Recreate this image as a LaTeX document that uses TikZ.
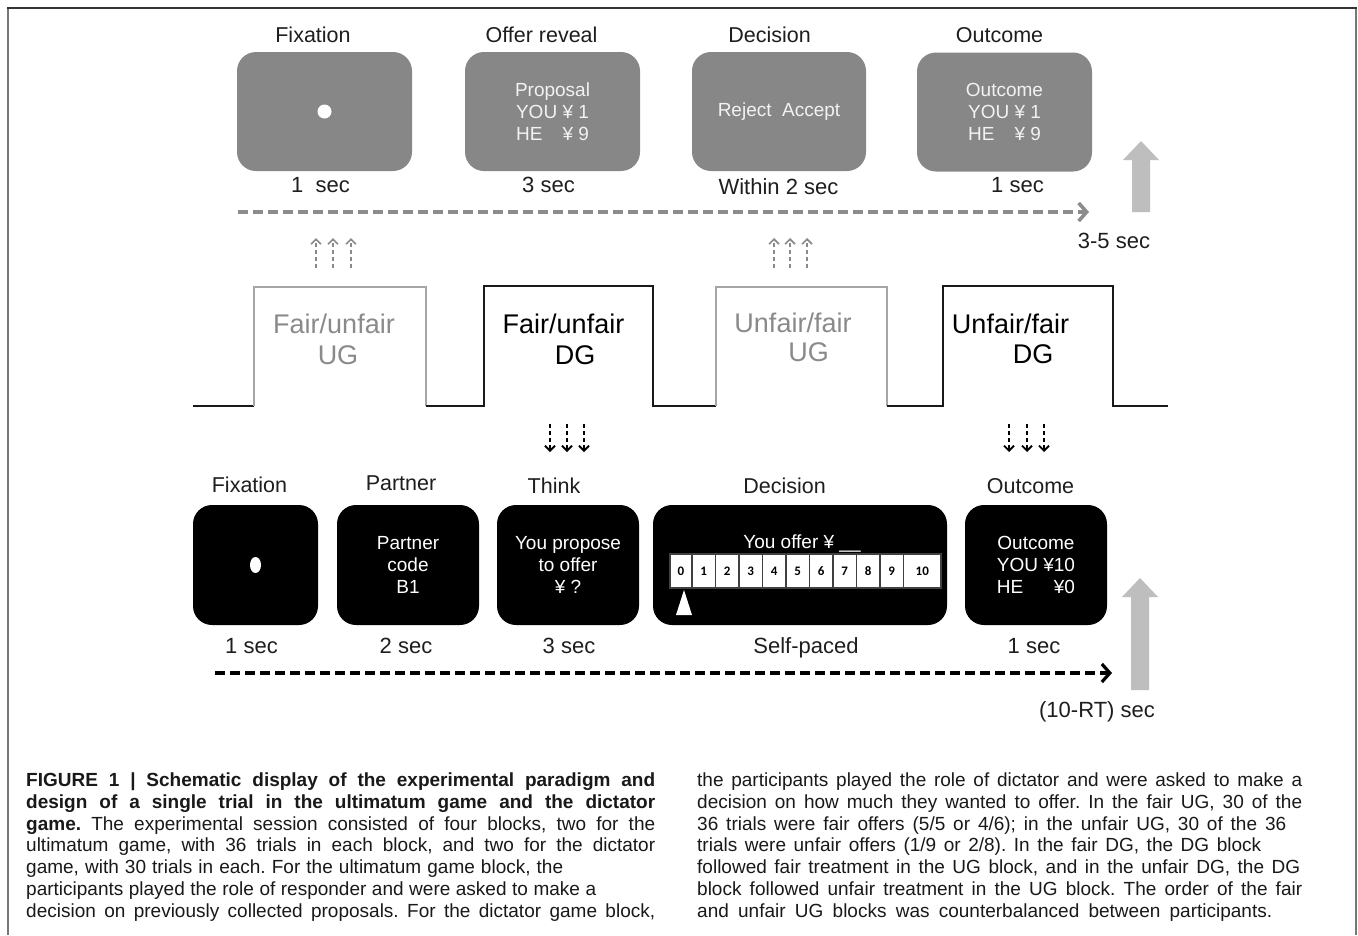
\documentclass[tikz,border=0pt]{standalone}
\usepackage{fontspec}
\setmainfont{Liberation Sans}
\newfontfamily\capfont{Liberation Sans}
\newfontfamily\numfont{Carlito}
\usetikzlibrary{arrows.meta,shapes.geometric}
\definecolor{boxgray}{HTML}{878787}
\definecolor{boxtext}{HTML}{F2F2F2}
\definecolor{titlecol}{HTML}{1E1E1E}
\definecolor{dashgray}{HTML}{8C8C8C}
\definecolor{biggray}{HTML}{BEBEBE}
\definecolor{wavegray}{HTML}{A5A5A5}
\definecolor{uggray}{HTML}{8A8A8A}
\definecolor{framedark}{HTML}{333333}
\definecolor{frameside}{HTML}{777777}
\begin{document}
\frenchspacing
\begin{tikzpicture}[x=1pt,y=-1pt,
  title/.style={font=\fontsize{21.5}{24}\selectfont, text=titlecol, anchor=base, inner sep=0pt},
  dur/.style={font=\fontsize{22}{24}\selectfont, text=titlecol, anchor=base, inner sep=0pt},
  screen/.style={rounded corners=19pt, inner sep=0pt, align=center, font=\fontsize{19}{22}\selectfont},
  topbox/.style={screen, fill=boxgray, text=boxtext, minimum width=175pt, minimum height=119pt},
  botbox/.style={screen, fill=black, text=white, minimum height=120pt},
  blk/.style={font=\fontsize{27}{30}\selectfont, anchor=base, inner sep=0pt},
  wblack/.style={draw=black!90, line width=2.4pt},
  wgray/.style={draw=wavegray, line width=1.6pt},
  uparr/.style={draw=uggray, line width=1.6pt, dash pattern=on 4pt off 3pt, -{Straight Barb[length=5pt,width=10pt]}},
  dnarr/.style={draw=black, line width=1.8pt, dash pattern=on 4pt off 3pt, -{Straight Barb[length=5pt,width=10pt]}},
  capline/.style={anchor=base west, inner sep=0pt, font=\capfont\fontsize{19}{21}\selectfont, text=black!90},
  cell/.style={fill=white, draw=black!75, line width=1.4pt},
  digit/.style={font=\numfont\bfseries\fontsize{13}{14}\selectfont, inner sep=0pt}
]
\useasboundingbox (0,0) rectangle (1358,935);
\fill[white] (0,0) rectangle (1358,935);
% frame
\draw[frameside, line width=2pt] (8,8) -- (8,935);
\draw[frameside, line width=2pt] (1356,8) -- (1356,935);
\draw[framedark, line width=2pt] (7,8) -- (1357,8);

% ---------- top row (UG trial) ----------
\node[title] (tt1) at (313,42) {Fixation};
\node[title] (tt2) at (541.5,42) {Offer reveal};
\node[title] (tt3) at (769.5,42) {Decision};
\node[title] (tt4) at (999.5,42) {Outcome};

\node[topbox] (t1) at (324.5,111.5) {};
\node[circle, fill=white, minimum size=14pt, inner sep=0pt] (t1dot) at (t1.center) {};
\node[topbox] (t2) at (552.5,111.5) {Proposal\\YOU ¥ 1\\\rlap{HE}\phantom{YOU} ¥ 9};
\node[topbox, minimum width=174pt] (t3) at (779,111.5) {Reject~~Accept};
\node[topbox] (t4) at (1004.5,112) {Outcome\\YOU ¥ 1\\\rlap{HE}\phantom{YOU} ¥ 9};

\node[dur] (td1) at (320.5,192) {1~~sec};
\node[dur] (td2) at (548.5,192) {3 sec};
\node[dur] (td3) at (778.5,194) {Within 2 sec};
\node[dur] (td4) at (1017.5,192) {1 sec};

\coordinate (ta0) at (238,212);
\coordinate (ta1) at (1089,212);
\draw[draw=dashgray, line width=4pt, dash pattern=on 10pt off 5pt,
      -{Straight Barb[length=8pt,width=18pt,line width=3.5pt]}] (ta0) -- (ta1);
\fill[biggray] (1132,212) -- (1132,160) -- (1123,160) -- (1141,141) -- (1159,160) -- (1150,160) -- (1150,212) -- cycle;
\node[dur] (t35) at (1114,248) {3-5 sec};

% up arrows (UG)
\foreach \x [count=\i] in {316,333,351}{
  \coordinate (ua\i s) at (\x,268); \coordinate (ua\i e) at (\x,238);
  \draw[uparr] (ua\i s) -- (ua\i e);
}
\foreach \x [count=\i] in {774,790,807}{
  \coordinate (ub\i s) at (\x,268); \coordinate (ub\i e) at (\x,238);
  \draw[uparr] (ub\i s) -- (ub\i e);
}

% ---------- block waveform ----------
\coordinate (w0) at (193,406);
\coordinate (w1) at (254,406);
\coordinate (w2) at (426,406);
\coordinate (w3) at (484,406);
\coordinate (w4) at (653,406);
\coordinate (w5) at (716,406);
\coordinate (w6) at (887,406);
\coordinate (w7) at (943,406);
\coordinate (w8) at (1113,406);
\coordinate (w9) at (1168,406);
\draw[wblack] (w0) -- (w1);
\draw[wgray] (w1) -- (254,287) -- (426,287) -- (w2);
\draw[wblack] (w2) -- (w3) -- (484,286) -- (653,286) -- (w4) -- (w5);
\draw[wgray] (w5) -- (716,287) -- (887,287) -- (w6);
\draw[wblack] (w6) -- (w7) -- (943,286) -- (1113,286) -- (w8) -- (w9);

\node[blk, text=uggray] (b1a) at (334,333) {Fair/unfair};
\node[blk, text=uggray] (b1b) at (338,364) {UG};
\node[blk, text=black] (b2a) at (563.5,333) {Fair/unfair};
\node[blk, text=black] (b2b) at (575,364) {DG};
\node[blk, text=uggray] (b3a) at (793,332) {Unfair/fair};
\node[blk, text=uggray] (b3b) at (808.5,361) {UG};
\node[blk, text=black] (b4a) at (1010.5,333) {Unfair/fair};
\node[blk, text=black] (b4b) at (1033,363) {DG};

% down arrows (DG)
\foreach \x [count=\i] in {550,567,584}{
  \coordinate (da\i s) at (\x,424); \coordinate (da\i e) at (\x,452);
  \draw[dnarr] (da\i s) -- (da\i e);
}
\foreach \x [count=\i] in {1009,1027,1044}{
  \coordinate (db\i s) at (\x,424); \coordinate (db\i e) at (\x,452);
  \draw[dnarr] (db\i s) -- (db\i e);
}

% ---------- bottom row (DG trial) ----------
\node[title] (bt1) at (249.5,492) {Fixation};
\node[title] (bt2) at (401,490) {Partner};
\node[title] (bt3) at (554,493) {Think};
\node[title] (bt4) at (784.5,493) {Decision};
\node[title] (bt5) at (1030.5,493) {Outcome};

\node[botbox, minimum width=125pt] (s1) at (255.5,565) {};
\node[ellipse, fill=white, minimum width=11pt, minimum height=16pt, inner sep=0pt] (s1dot) at (s1.center) {};
\node[botbox, minimum width=142pt] (s2) at (408,565) {Partner\\code\\B1};
\node[botbox, minimum width=142pt] (s3) at (568,565) {You propose\\to offer\\¥ ?};
\node[botbox, minimum width=294pt] (s4) at (800,565) {};
\node[botbox, minimum width=142pt] (s5) at (1036,565) {\rule{0pt}{8pt}Outcome\\YOU ¥10\\\rlap{HE}\phantom{YOU} \phantom{1}¥0};

\node[font=\fontsize{19}{22}\selectfont, text=white, anchor=base, inner sep=0pt] (offer) at (802,548) {You offer ¥ \_\_};
\foreach \l/\r/\n [count=\i] in {670/692/0, 692/715.5/1, 715.5/739/2, 739/762.5/3, 762.5/786/4, 786/809.5/5, 809.5/833/6, 833/856.5/7, 856.5/880/8, 880/903.5/9, 903.5/941/10}{
  \draw[cell] (\l,554) rectangle (\r,588);
  \node[digit] (n\i) at ({(\l+\r)/2},571) {\n};
}
\fill[white] (684,590) -- (692,615) -- (676,615) -- cycle;

\node[dur] (bd1) at (251.5,653) {1 sec};
\node[dur] (bd2) at (406,653) {2 sec};
\node[dur] (bd3) at (569,653) {3 sec};
\node[dur] (bd4) at (806,653) {Self-paced};
\node[dur] (bd5) at (1034,653) {1 sec};

\coordinate (ba0) at (215,673);
\coordinate (ba1) at (1112,673);
\draw[draw=black, line width=3.6pt, dash pattern=on 10pt off 5pt,
      -{Straight Barb[length=8pt,width=18pt,line width=3.2pt]}] (ba0) -- (ba1);
\fill[biggray] (1131,690) -- (1131,597) -- (1122,597) -- (1140,578) -- (1158,597) -- (1149,597) -- (1149,690) -- cycle;
\node[dur] (brt) at (1097,717) {(10-RT) sec};

% ---------- caption ----------
\node[capline] (c1) at (26,786.5) {\makebox[629pt][s]{\bfseries FIGURE 1 | Schematic display of the experimental paradigm and}};
\node[capline] (c2) at (26,808.3) {\makebox[629pt][s]{\bfseries design of a single trial in the ultimatum game and the dictator}};
\node[capline] (c3) at (26,830.1) {\makebox[629pt][s]{\textbf{game.} The experimental session consisted of four blocks, two for the}};
\node[capline] (c4) at (26,851.9) {\makebox[629pt][s]{ultimatum game, with 36 trials in each block, and two for the dictator}};
\node[capline] (c5) at (26,873.7) {\makebox[537pt][s]{game, with 30 trials in each. For the ultimatum game block, the}};
\node[capline] (c6) at (26,895.5) {\makebox[570pt][s]{participants played the role of responder and were asked to make a}};
\node[capline] (c7) at (26,917.3) {\makebox[629pt][s]{decision on previously collected proposals. For the dictator game block,}};

\node[capline] (r1) at (697,786.5) {\makebox[605pt][s]{the participants played the role of dictator and were asked to make a}};
\node[capline] (r2) at (697,808.3) {\makebox[605pt][s]{decision on how much they wanted to offer. In the fair UG, 30 of the}};
\node[capline] (r3) at (697,830.1) {\makebox[589pt][s]{36 trials were fair offers (5/5 or 4/6); in the unfair UG, 30 of the 36}};
\node[capline] (r4) at (697,851.9) {\makebox[564pt][s]{trials were unfair offers (1/9 or 2/8). In the fair DG, the DG block}};
\node[capline] (r5) at (697,873.7) {\makebox[603pt][s]{followed fair treatment in the UG block, and in the unfair DG, the DG}};
\node[capline] (r6) at (697,895.5) {\makebox[605pt][s]{block followed unfair treatment in the UG block. The order of the fair}};
\node[capline] (r7) at (697,917.3) {\makebox[575pt][s]{and unfair UG blocks was counterbalanced between participants.}};
\end{tikzpicture}
\end{document}
